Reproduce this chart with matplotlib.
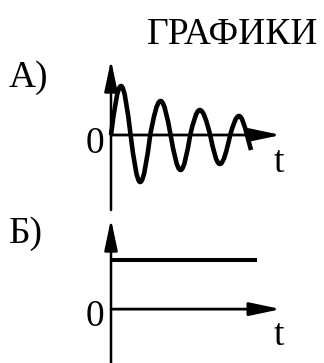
import matplotlib
matplotlib.use('Agg')
import matplotlib.pyplot as plt
from matplotlib.path import Path
from matplotlib.patches import PathPatch

plt.rcParams['font.family'] = ['Liberation Serif', 'DejaVu Serif']

W, H = 324, 363

title = 'ГРАФИКИ'
panel_labels = ['А)', 'Б)']
axis_name = 't'
zero_name = '0'

# panel A: damped oscillation, zero crossings and extrema
wave_t = [0.0, 0.25, 0.49, 0.73, 0.98, 1.24, 1.49, 1.74, 1.98, 2.22, 2.48, 2.72, 2.98, 3.2, 3.4]
wave_y = [0.0, 0.98, 0.0, -0.94, 0.0, 0.68, 0.0, -0.70, 0.0, 0.50, 0.0, -0.58, 0.0, 0.38, 0.0]
wave_end = (3.5, -0.30)

# panel B: constant level
level_t = [0.0, 3.64]
level_y = [1.0, 1.0]

t_max = 4.25


def wave_path(ts, ys, end):
    # quarter-sine bezier between each crossing and extremum
    verts = [(ts[0], ys[0])]
    codes = [Path.MOVETO]
    for i in range(len(ts) - 1):
        t0, y0, t1, y1 = ts[i], ys[i], ts[i + 1], ys[i + 1]
        q = t1 - t0
        if y0 == 0:
            c1 = (t0 + 0.3261 * q, 0.5123 * y1)
            c2 = (t0 + 0.6381 * q, y1)
        else:
            c1 = (t0 + 0.3619 * q, y0)
            c2 = (t0 + 0.6739 * q, 0.5123 * y0)
        verts += [c1, c2, (t1, y1)]
        codes += [Path.CURVE4] * 3
    verts.append(end)
    codes.append(Path.LINETO)
    return Path(verts, codes)


def arrow(ax, start, end, lw):
    ax.annotate('', xy=end, xytext=start,
                arrowprops=dict(arrowstyle='-|>,head_length=1.9,head_width=0.4',
                                mutation_scale=10, lw=lw, color='black',
                                shrinkA=0, shrinkB=0))


fig = plt.figure(figsize=(W / 100, H / 100), dpi=100)

# panel A
axA = fig.add_axes([111 / W, 1 - 210 / H, 170 / W, 150 / H])
axA.set_xlim(0, t_max)
axA.set_ylim(-1.5, 1.5)
axA.axis('off')
arrow(axA, (0, -1.5), (0, 1.5), 1.8)
arrow(axA, (0, 0), (t_max, 0), 2.0)
axA.add_patch(PathPatch(wave_path(wave_t, wave_y, wave_end), fill=False,
                        lw=3.3, edgecolor='black', capstyle='butt',
                        joinstyle='round', clip_on=False))

# panel B
axB = fig.add_axes([111 / W, 0, 170 / W, (H - 219) / H])
axB.set_xlim(0, t_max)
axB.set_ylim(-1.1, 1.84)
axB.axis('off')
arrow(axB, (0, -1.1), (0, 1.84), 1.8)
arrow(axB, (0, 0), (t_max, 0), 2.0)
axB.plot(level_t, level_y, color='black', lw=2.9, solid_capstyle='butt')


def label(s, x, y, ha='left'):
    fig.text(x / W, 1 - y / H, s, fontsize=27, ha=ha, va='baseline')


label(title, 318, 44, ha='right')
label(panel_labels[0], 9, 87)
label(panel_labels[1], 9, 243)
label(zero_name, 104, 153, ha='right')
label(zero_name, 104, 326, ha='right')
label(axis_name, 274, 172)
label(axis_name, 274, 345)

fig.savefig('out.png', dpi=100)
